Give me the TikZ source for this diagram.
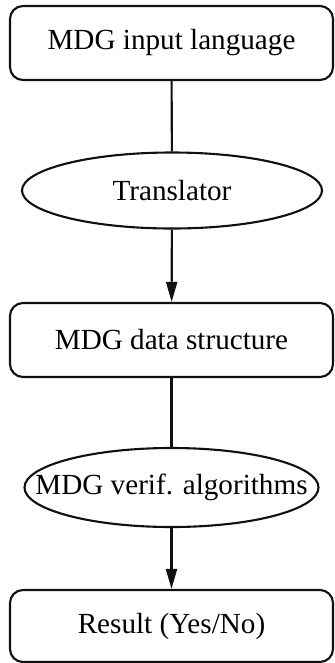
\documentclass[tikz,border=0pt]{standalone}
\usepackage{fontspec}
\setmainfont{Liberation Serif}
\usepackage{tikz}
\usetikzlibrary{arrows.meta,positioning,shapes.geometric}
\definecolor{inkblack}{HTML}{111111}

\tikzset{
  stagebox/.style={draw=inkblack,line width=0.6pt,rectangle,rounded corners=1.3mm,
    minimum width=3.23cm,minimum height=0.74cm,inner sep=0pt},
  toolellipse/.style={draw=inkblack,line width=0.6pt,ellipse,inner sep=0pt,
    minimum width=3.0cm,minimum height=0.76cm},
  flowline/.style={draw=inkblack,line width=0.6pt},
  flowarrow/.style={flowline,-{Triangle[length=2mm,width=1.1mm]}}
}

\begin{document}
\begin{tikzpicture}[font=\fontsize{8.3pt}{10pt}\selectfont]
  \useasboundingbox (0,0) rectangle (3.34,-6.63);
  % stages and tools
  \node[stagebox] (input) at (1.715,-0.43) {MDG input language};
  \node[toolellipse,label=center:{Translator}] (trans) at (1.72,-1.905) {};
  \node[stagebox] (data) at (1.715,-3.40) {MDG data structure};
  \node[toolellipse,minimum width=2.94cm,minimum height=0.79cm,
    label=center:{MDG verif. algorithms}] (verif) at (1.715,-4.875) {};
  \node[stagebox,minimum height=0.72cm] (result) at (1.715,-6.26) {Result (Yes/No)};
  % connectors
  \draw[flowline] (input) -- (trans);
  \draw[flowarrow] (trans) -- (data);
  \draw[flowline] (data) -- (verif);
  \draw[flowarrow] (verif) -- (result);
\end{tikzpicture}
\end{document}
